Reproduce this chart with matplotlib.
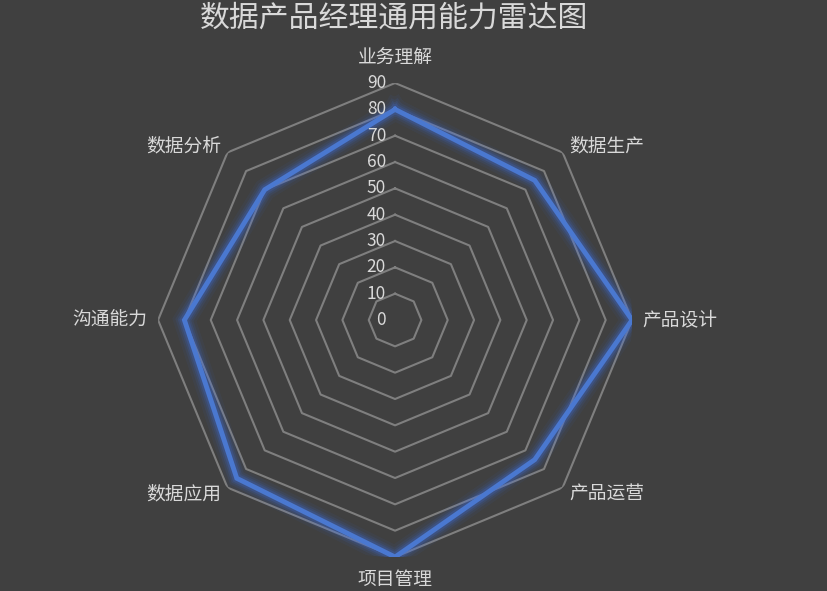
import numpy as np
import matplotlib
matplotlib.use("Agg")
import matplotlib.pyplot as plt
from matplotlib.transforms import offset_copy

plt.rcParams['font.family'] = ['Noto Sans CJK SC', 'DejaVu Sans']

categories = ['业务理解', '数据生产', '产品设计', '产品运营', '项目管理', '数据应用', '沟通能力', '数据分析']
values = [80, 75, 90, 75, 90, 85, 80, 70]
ticks = [0, 10, 20, 30, 40, 50, 60, 70, 80, 90]
title = '数据产品经理通用能力雷达图'

bg = '#404040'
txt = '#D9D9D9'
grid_c = '#7F7F7F'
line_c = '#4472C4'

fig = plt.figure(figsize=(8.27, 5.91), dpi=100, facecolor=bg)
ax = fig.add_axes([0.1911, 0.0575, 0.5732, 0.802], projection='polar')
ax.set_facecolor(bg)
ax.set_theta_offset(np.pi / 2)
ax.set_theta_direction(-1)
ax.set_ylim(0, 90)
ax.grid(False)
ax.spines['polar'].set_visible(False)
ax.set_xticks([])
ax.set_yticks([])

n = len(categories)
angles = np.linspace(0, 2 * np.pi, n, endpoint=False)
ang_c = np.concatenate([angles, angles[:1]])

for t in ticks[1:]:
    ax.plot(ang_c, [t] * (n + 1), color=grid_c, lw=1.5, zorder=1)

vals_c = values + values[:1]
for w, a in [(16, 0.06), (12, 0.09), (9, 0.13), (6.5, 0.2)]:
    ax.plot(ang_c, vals_c, color='#3D6FE8', lw=w, alpha=a, solid_joinstyle='miter', zorder=2)
ax.plot(ang_c, vals_c, color='#4A78D0', lw=3.5, solid_joinstyle='miter', zorder=3)

tr = offset_copy(ax.transData, fig=fig, x=-9, y=0, units='dots')
for t in ticks:
    ax.text(0, t, str(t), transform=tr, ha='right', va='center', color=txt,
            fontsize=12.5, fontweight='medium', zorder=4)

# category labels
label_r = [99.5, 93.6, 94, 93.6, 98.5, 93.6, 94, 93.6]
has = ['center', 'left', 'left', 'left', 'center', 'right', 'right', 'right']
for ang, cat, r, h in zip(angles, categories, label_r, has):
    ax.text(ang, r, cat, ha=h, va='center', color=txt, fontsize=13.5, clip_on=False)

fig.text(0.476, 0.970, title, ha='center', va='center', color=txt, fontsize=21.5)

fig.savefig('out.png', dpi=100, facecolor=bg)
